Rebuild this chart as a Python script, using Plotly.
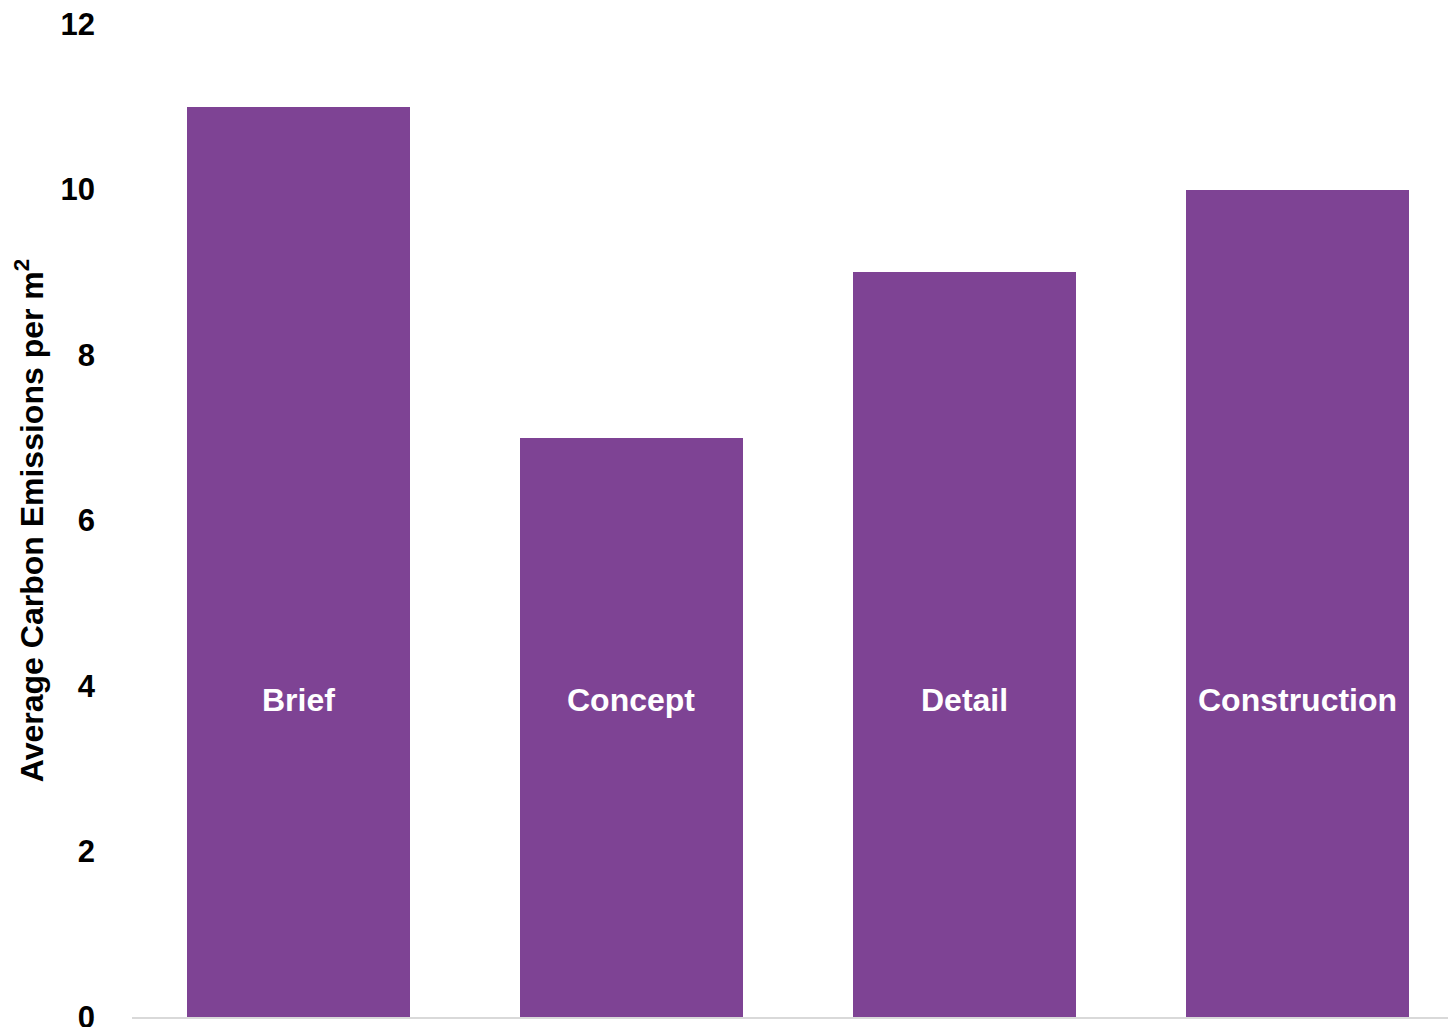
import plotly.graph_objects as go

# Average carbon emissions per m² at each project stage
stages = ["Brief", "Concept", "Detail", "Construction"]
emissions = [11, 7, 9, 10]
y_ticks = [0, 2, 4, 6, 8, 10, 12]
label_height = 3.83  # where the stage names sit inside the bars

BAR_COLOR = "#7E4394"
FONT = "Liberation Sans, Arial, sans-serif"

fig = go.Figure(
    go.Bar(
        x=list(range(len(stages))),
        y=emissions,
        width=0.667,
        marker=dict(color=BAR_COLOR, line=dict(width=0)),
        hoverinfo="skip",
    )
)

for i, name in enumerate(stages):
    fig.add_annotation(
        x=i,
        y=label_height,
        text=f"<b>{name}</b>",
        showarrow=False,
        font=dict(family=FONT, size=32, color="white"),
        xanchor="center",
        yanchor="middle",
    )

fig.update_layout(
    width=1448,
    height=1027,
    margin=dict(l=132, r=0, t=24, b=10, autoexpand=False),
    paper_bgcolor="white",
    plot_bgcolor="white",
    showlegend=False,
    bargap=0,
    xaxis=dict(
        range=[-0.5, 3.452],
        showticklabels=False,
        ticks="",
        showgrid=False,
        zeroline=False,
        showline=True,
        linecolor="#D9D9D9",
        linewidth=2,
        fixedrange=True,
    ),
    yaxis=dict(
        range=[0, 12],
        tickvals=y_ticks,
        ticktext=[f"<b>{v}</b>" for v in y_ticks],
        tickfont=dict(family=FONT, size=31, color="black"),
        ticks="",
        ticklabelstandoff=36,
        ticklabeloverflow="allow",
        showgrid=False,
        zeroline=False,
        showline=False,
        automargin=False,
        title=dict(
            text="<b>Average Carbon Emissions per m<sup>2</sup></b>",
            font=dict(family=FONT, size=32, color="black"),
            standoff=7,
        ),
        fixedrange=True,
    ),
)

fig.write_html("out.html")
